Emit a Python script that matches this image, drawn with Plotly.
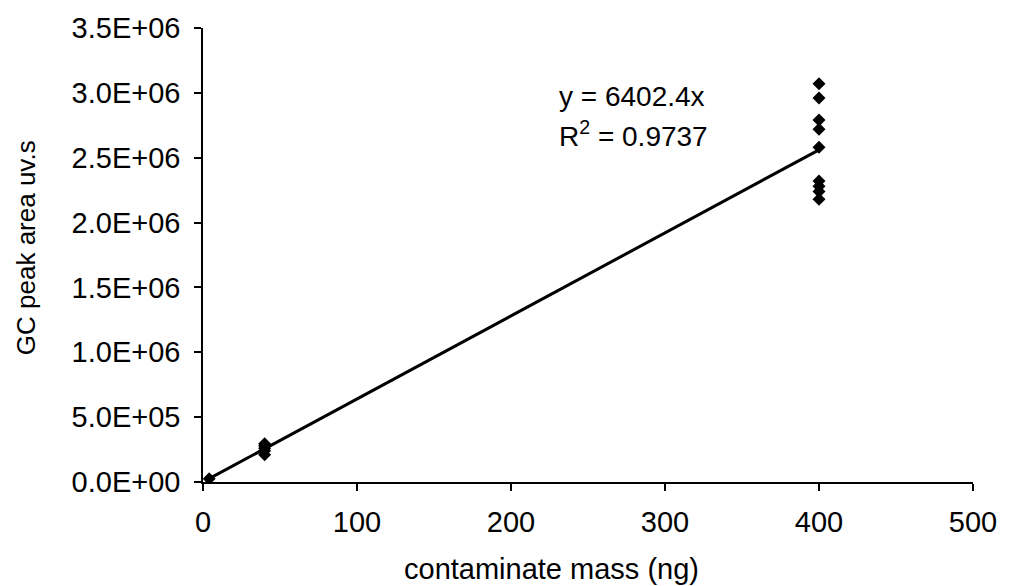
import plotly.graph_objects as go

# data
mass_ng = [4, 40, 40, 40, 40, 40, 400, 400, 400, 400, 400, 400, 400, 400, 400]
peak_area = [2.5e4, 2.1e5, 2.4e5, 2.6e5, 2.8e5, 2.95e5,
             3.07e6, 2.96e6, 2.79e6, 2.72e6, 2.58e6, 2.32e6, 2.28e6, 2.24e6, 2.18e6]
slope = 6402.4
fit_x = [4, 400]
fit_y = [slope * v for v in fit_x]

x_ticks = [0, 100, 200, 300, 400, 500]
y_ticks = [0, 5e5, 1e6, 1.5e6, 2e6, 2.5e6, 3e6, 3.5e6]
y_ticktext = ["0.0E+00", "5.0E+05", "1.0E+06", "1.5E+06", "2.0E+06", "2.5E+06", "3.0E+06", "3.5E+06"]

FONT = "Liberation Sans, Arial, sans-serif"
FS = 28
TFS = 29

fig = go.Figure()
fig.add_trace(go.Scatter(x=fit_x, y=fit_y, mode="lines",
                         line=dict(color="black", width=3), showlegend=False))
fig.add_trace(go.Scatter(x=mass_ng, y=peak_area, mode="markers",
                         marker=dict(symbol="diamond", size=10, color="black"),
                         showlegend=False))

fig.update_layout(
    width=1009, height=586,
    margin=dict(l=203, r=34, t=23, b=104),
    paper_bgcolor="white", plot_bgcolor="white",
    font=dict(family=FONT, size=FS, color="black"),
    xaxis=dict(range=[0, 500], tickvals=x_ticks, showgrid=False, zeroline=False,
               showline=True, linecolor="black", linewidth=1.5,
               ticks="outside", ticklen=7, tickcolor="black", tickwidth=1.5,
               ticklabelstandoff=6, tickfont=dict(size=TFS)),
    yaxis=dict(range=[0, 3.5e6], tickvals=y_ticks, ticktext=y_ticktext,
               showgrid=False, zeroline=False,
               showline=True, linecolor="black", linewidth=1.5,
               ticks="outside", ticklen=7, tickcolor="black", tickwidth=1.5,
               ticklabelstandoff=8, tickfont=dict(size=TFS)),
    annotations=[
        dict(text="GC peak area uv.s", xref="paper", yref="paper", x=-0.2306, y=0.516,
             xanchor="center", yanchor="middle",
             textangle=-90, showarrow=False, font=dict(size=26)),
        dict(text="contaminate mass (ng)", xref="paper", yref="paper", x=0.453, y=-0.192,
             xanchor="center", yanchor="middle",
             showarrow=False, font=dict(size=TFS)),
        dict(text="y = 6402.4x", xref="x", yref="y", x=230, y=2.97e6,
             xanchor="left", yanchor="middle", showarrow=False, font=dict(size=FS)),
        dict(text="R<sup>2</sup> = 0.9737", xref="x", yref="y", x=230, y=2.68e6,
             xanchor="left", yanchor="middle", showarrow=False, font=dict(size=FS)),
    ],
)

fig.write_html("out.html")
